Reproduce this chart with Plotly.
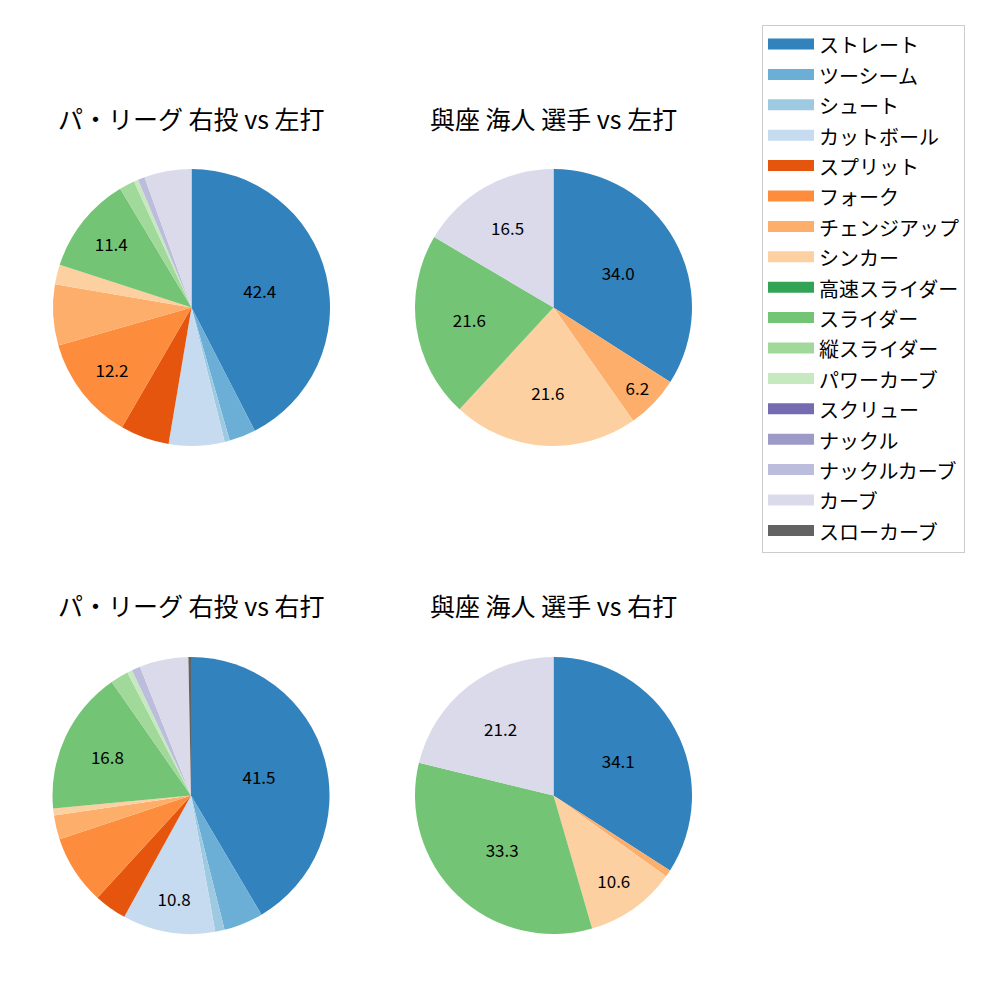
import plotly.graph_objects as go

labels = ["ストレート", "ツーシーム", "シュート", "カットボール", "スプリット", "フォーク",
          "チェンジアップ", "シンカー", "高速スライダー", "スライダー", "縦スライダー",
          "パワーカーブ", "スクリュー", "ナックル", "ナックルカーブ", "カーブ", "スローカーブ"]
colors = ["#3182bd", "#6baed6", "#9ecae1", "#c6dbef", "#e6550d", "#fd8d3c",
          "#fdae6b", "#fdd0a2", "#31a354", "#74c476", "#a1d99b", "#c7e9c0",
          "#756bb1", "#9e9ac8", "#bcbddc", "#dadaeb", "#636363"]

titles = ["パ・リーグ 右投 vs 左打", "與座 海人 選手 vs 左打",
          "パ・リーグ 右投 vs 右打", "與座 海人 選手 vs 右打"]

league_vs_left = [42.4, 3.1, 0.6, 6.5, 5.7, 12.2, 7.1, 2.3, 0, 11.4, 1.8, 0.5, 0, 0, 0.8, 5.5, 0]
player_vs_left = [34.0, 0, 0, 0, 0, 0, 6.2, 21.6, 0, 21.6, 0, 0, 0, 0, 0, 16.5, 0]
league_vs_right = [41.5, 4.6, 1.1, 10.8, 3.8, 8.1, 2.8, 0.8, 0, 16.8, 2.1, 0.6, 0, 0, 1.0, 5.7, 0.3]
player_vs_right = [34.1, 0, 0, 0, 0, 0, 0.8, 10.6, 0, 33.3, 0, 0, 0, 0, 0, 21.2, 0]

labeled_league_vs_left = ["ストレート", "フォーク", "スライダー"]
labeled_player_vs_left = ["ストレート", "チェンジアップ", "シンカー", "スライダー", "カーブ"]
labeled_league_vs_right = ["ストレート", "カットボール", "スライダー"]
labeled_player_vs_right = ["ストレート", "シンカー", "スライダー", "カーブ"]

W = H = 1000
FONT = "Noto Sans CJK JP"
R = 138.5
centers = [(191.5, 307.5), (553.5, 307.5), (191.0, 795.5), (553.5, 795.5)]
title_y = [118, 118, 605, 605]

series = [league_vs_left, player_vs_left, league_vs_right, player_vs_right]
shown = [labeled_league_vs_left, labeled_player_vs_left, labeled_league_vs_right, labeled_player_vs_right]

fig = go.Figure()
for vals, lab, (cx, cy), t, ty in zip(series, shown, centers, titles, title_y):
    texts = [f"{v:.1f}" if l in lab else "" for l, v in zip(labels, vals)]
    fig.add_trace(go.Pie(
        labels=labels, values=vals, sort=False, direction="clockwise", rotation=0,
        marker=dict(colors=colors, line=dict(width=0)),
        text=texts, texttemplate="%{text}", textposition="inside",
        insidetextorientation="horizontal",
        textfont=dict(family=FONT, size=17, color="black"),
        domain=dict(x=[(cx - R) / W, (cx + R) / W], y=[1 - (cy + R) / H, 1 - (cy - R) / H]),
        showlegend=False, hoverinfo="label+percent",
    ))
    fig.add_annotation(text=t, x=cx / W, y=1 - ty / H, xref="paper", yref="paper",
                       showarrow=False, xanchor="center", yanchor="middle",
                       font=dict(family=FONT, size=25, color="black"))

# legend entries
for i, (l, c) in enumerate(zip(labels, colors)):
    fig.add_trace(go.Scatter(x=[None], y=[None], mode="lines", name=l,
                             line=dict(color=c, width=10), fill="toself", fillcolor=c,
                             legendgroup=f"g{i}", showlegend=True, hoverinfo="skip"))

fig.update_layout(
    width=W, height=H, margin=dict(l=0, r=0, t=0, b=0),
    paper_bgcolor="white", plot_bgcolor="rgba(0,0,0,0)",
    xaxis=dict(visible=False), yaxis=dict(visible=False),
    legend=dict(x=0.762, y=0.975, xanchor="left", yanchor="top",
                bordercolor="#cccccc", borderwidth=1, bgcolor="white",
                font=dict(family=FONT, size=20, color="black"),
                itemwidth=46, tracegroupgap=1.4, traceorder="grouped"),
)

fig.write_html("out.html")
